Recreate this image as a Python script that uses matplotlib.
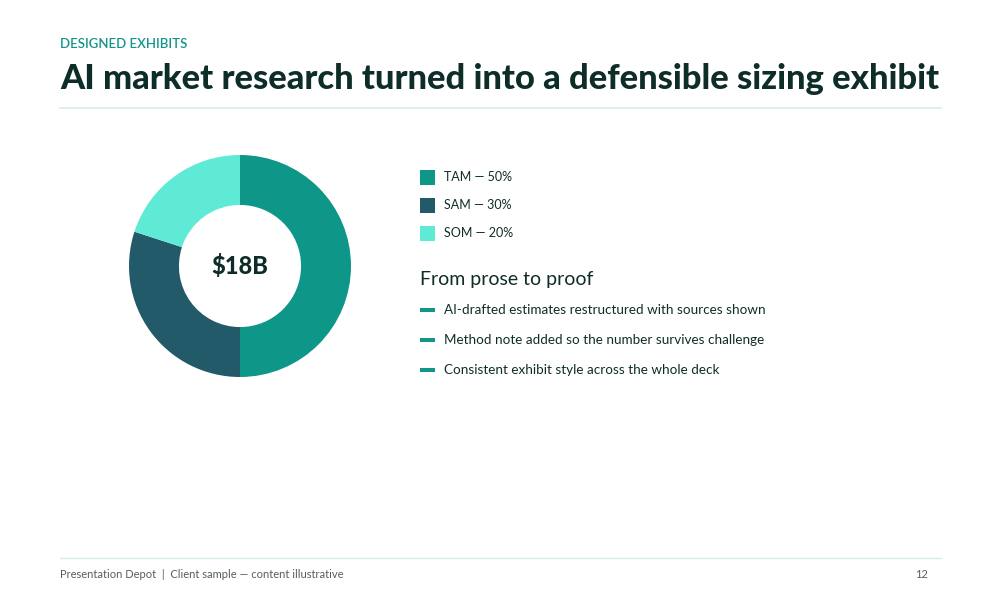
import matplotlib
matplotlib.use("Agg")
import matplotlib.pyplot as plt
from matplotlib.patches import Rectangle

plt.rcParams["font.family"] = ["Lato", "DejaVu Sans"]

# ---- data ----
segments = ["TAM", "SAM", "SOM"]
shares = [50, 30, 20]
seg_colors = ["#0E9688", "#225A69", "#5EEAD5"]
center_label = "$18B"
bullets = [
    "AI-drafted estimates restructured with sources shown",
    "Method note added so the number survives challenge",
    "Consistent exhibit style across the whole deck",
]

DARK = "#0F2D28"
TEAL = "#14958A"
RULE = "#D3EEE9"
W, H = 1000, 600


def fx(x):
    return x / W


def fy(y):
    return 1 - y / H


fig = plt.figure(figsize=(10, 6), dpi=100)
fig.patch.set_facecolor("white")

# header
fig.text(fx(60), fy(44), "DESIGNED EXHIBITS", color=TEAL, fontsize=9.5,
         fontweight="semibold", va="center", ha="left")
fig.text(fx(60), fy(79), "AI market research turned into a defensible sizing exhibit",
         color=DARK, fontsize=24.8, fontweight="black", va="center", ha="left")
fig.add_artist(plt.Line2D([fx(60), fx(941)], [fy(108), fy(108)], color=RULE, lw=1.2))

# donut
R = 111
ax = fig.add_axes([fx(240 - R), fy(266 + R), 2 * R / W, 2 * R / H])
ax.pie(shares, colors=seg_colors, startangle=90, counterclock=False,
       radius=1, wedgeprops=dict(width=0.45, edgecolor="none"))
ax.set_aspect("equal")
ax.set_xlim(-1, 1)
ax.set_ylim(-1, 1)
ax.text(0, 0, center_label, ha="center", va="center", fontsize=17,
        fontweight="black", color=DARK)
ax.axis("off")

# legend
for i, (name, val, col) in enumerate(zip(segments, shares, seg_colors)):
    y = 177 + 28 * i
    fig.add_artist(Rectangle((fx(420), fy(y + 7.5)), 15 / W, 15 / H,
                             facecolor=col, edgecolor="none",
                             transform=fig.transFigure))
    fig.text(fx(444), fy(y), f"{name} \u2014 {val}%", color=DARK, fontsize=9,
             va="center", ha="left")

fig.text(fx(420), fy(279), "From prose to proof", color=DARK, fontsize=14,
         va="center", ha="left")

for i, b in enumerate(bullets):
    y = 310 + 30 * i
    fig.add_artist(Rectangle((fx(420), fy(y + 1.5)), 15 / W, 3.5 / H,
                             facecolor=TEAL, edgecolor="none",
                             transform=fig.transFigure))
    fig.text(fx(444), fy(y), b, color=DARK, fontsize=9.7, va="center", ha="left")

# footer
fig.add_artist(plt.Line2D([fx(60), fx(941)], [fy(558), fy(558)], color=RULE, lw=1))
fig.text(fx(60), fy(575), "Presentation Depot  |  Client sample \u2014 content illustrative",
         color="#555F5C", fontsize=8, va="center", ha="left")
fig.text(fx(928), fy(575), "12", color="#555F5C", fontsize=8, va="center", ha="right")

fig.savefig("out.png", dpi=100, facecolor="white")
